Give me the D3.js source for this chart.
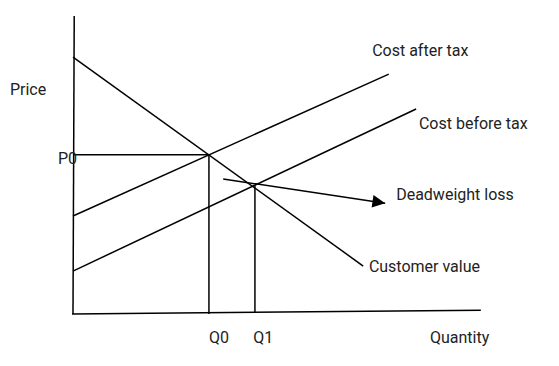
<!DOCTYPE html>
<html>
<head>
<meta charset="utf-8">
<script src="https://cdn.jsdelivr.net/npm/d3@7"></script>
<style>
  body { margin: 0; background: #fff; }
  text { font-family: Roboto, "Noto Sans", sans-serif; font-size: 16px; fill: #222; }
</style>
</head>
<body>
<svg id="chart" width="559" height="366"></svg>
<script>
// values in chart units (quantity 0..100, price 0..100)
const demand = [[0, 86.2], [71.3, 16.1]];          // customer value
const costAfterTax = [[0, 32.9], [77.6, 80.5]];
const costBeforeTax = [[0, 14.4], [84.3, 68.8]];
const q0 = 33.4, p0 = 53.4;
const q1 = 44.7, p1 = 43.0;
const dwlArrow = [[36.9, 45.3], [76.7, 37.2]];
const xAxisLine = [[-0.25, 0], [100.2, 1.3]];
const yAxisLine = [[0, 0], [0.3, 100]];

const labels = [
  { text: 'Price', x: -15.5, y: 73.5, anchor: 'start' },
  { text: 'P0', x: -3.7, y: 50.4, anchor: 'start' },
  { text: 'Q0', x: 33.4, y: -9.7, anchor: 'start' },
  { text: 'Q1', x: 44.3, y: -9.7, anchor: 'start' },
  { text: 'Quantity', x: 87.7, y: -9.7, anchor: 'start' },
  { text: 'Cost after tax', x: 73.5, y: 86.6, anchor: 'start' },
  { text: 'Cost before tax', x: 85, y: 62.1, anchor: 'start' },
  { text: 'Deadweight loss', x: 79.4, y: 38.3, anchor: 'start' },
  { text: 'Customer value', x: 72.7, y: 14.1, anchor: 'start' },
];

const svg = d3.select('#chart');
const x = d3.scaleLinear().domain([0, 100]).range([73, 480]);
const y = d3.scaleLinear().domain([0, 100]).range([314, 16]);
const line = d3.line().x(d => x(d[0])).y(d => y(d[1]));

svg.append('defs').append('marker')
  .attr('id', 'arrow')
  .attr('viewBox', '0 0 10 10')
  .attr('refX', 10).attr('refY', 5)
  .attr('markerWidth', 9).attr('markerHeight', 8.5)
  .attr('markerUnits', 'strokeWidth')
  .attr('orient', 'auto')
  .append('path').attr('d', 'M0,0L10,5L0,10Z').attr('fill', '#000');

const lines = [
  xAxisLine, yAxisLine, demand, costAfterTax, costBeforeTax,
  [[0, p0], [q0, p0]],
  [[q0, 0], [q0, p0]],
  [[q1, 0.6], [q1, p1]],
];

svg.selectAll('path.curve')
  .data(lines)
  .enter().append('path')
  .attr('class', 'curve')
  .attr('d', line)
  .attr('fill', 'none')
  .attr('stroke', '#000')
  .attr('stroke-width', 1.5);

svg.append('path')
  .attr('d', line(dwlArrow))
  .attr('fill', 'none')
  .attr('stroke', '#000')
  .attr('stroke-width', 1.5)
  .attr('marker-end', 'url(#arrow)');

svg.selectAll('text.label')
  .data(labels)
  .enter().append('text')
  .attr('class', 'label')
  .attr('x', d => x(d.x))
  .attr('y', d => y(d.y))
  .attr('text-anchor', d => d.anchor)
  .text(d => d.text);
</script>
</body>
</html>
